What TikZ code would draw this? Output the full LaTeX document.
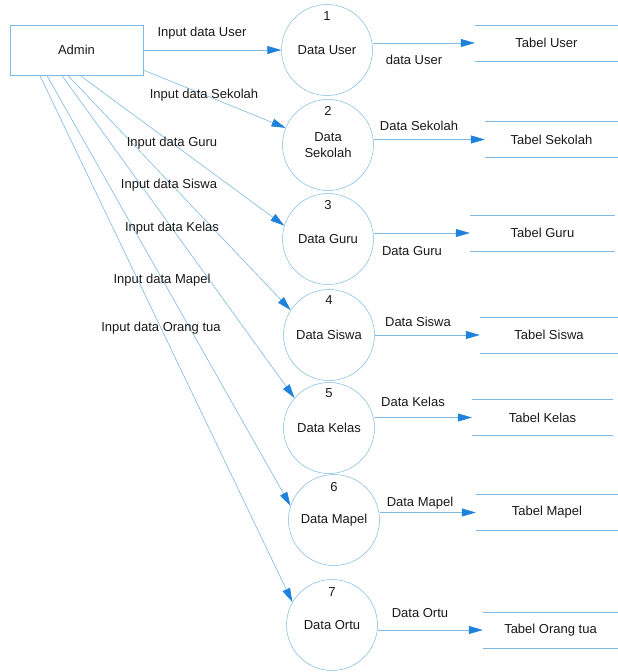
\documentclass[tikz,border=0pt]{standalone}
\usepackage{fontspec}
\setmainfont{Liberation Sans}
\usetikzlibrary{arrows.meta,calc}
\definecolor{linec}{RGB}{125,185,225}
\definecolor{tipc}{RGB}{30,130,220}
\definecolor{txt}{RGB}{25,25,25}
\begin{document}
\begin{tikzpicture}[x=1pt,y=-1pt,
  every node/.style={font=\fontsize{13}{15.5}\selectfont, text=txt},
  proc/.style={circle, draw=linec, line width=0.5pt, minimum size=91pt, inner sep=0pt, align=center},
  entity/.style={draw=linec, line width=0.5pt, minimum width=133pt, minimum height=50pt},
  store/.style={minimum height=36pt, inner sep=0pt},
  storeline/.style={draw=linec, line width=0.5pt},
  flow/.style={draw=linec, line width=0.6pt, -{Triangle[length=14pt,width=8pt,color=tipc]}},
  num/.style={inner sep=1pt}]
\useasboundingbox (0,0) rectangle (618,672);

% external entity
\node[entity] (admin) at (76.5,50) {Admin};

% processes
\node[proc] (c1) at (327,50) {Data User};
\node[proc] (c2) at (328,145) {Data\\Sekolah};
\node[proc] (c3) at (328,239) {Data Guru};
\node[proc] (c4) at (329,335) {Data Siswa};
\node[proc] (c5) at (329,428) {Data Kelas};
\node[proc] (c6) at (334,520) {Data Mapel};
\node[proc] (c7) at (332,625) {Data Ortu};

\node[num] (n1) at ($(c1)+(0,-34)$) {1};
\node[num] (n2) at ($(c2)+(0,-34)$) {2};
\node[num] (n3) at ($(c3)+(0,-34)$) {3};
\node[num] (n4) at ($(c4)+(0,-35)$) {4};
\node[num] (n5) at ($(c5)+(0,-35)$) {5};
\node[num] (n6) at ($(c6)+(0,-33)$) {6};
\node[num] (n7) at ($(c7)+(0,-33)$) {7};

% data stores
\node[store, minimum width=143pt] (s1) at (546.5,43) {Tabel User};
\node[store, minimum width=133pt] (s2) at (551.5,139.5) {Tabel Sekolah};
\node[store, minimum width=145pt] (s3) at (542.5,233) {Tabel Guru};
\node[store, minimum width=138pt] (s4) at (549,335) {Tabel Siswa};
\node[store, minimum width=141pt] (s5) at (542.5,417.5) {Tabel Kelas};
\node[store, minimum width=142pt] (s6) at (547,512.5) {Tabel Mapel};
\node[store, minimum width=135pt] (s7) at (550.5,630) {Tabel Orang tua};

\foreach \s in {s1,s2,s3,s4,s5,s6,s7}{
  \draw[storeline] (\s.north west) -- (\s.north east);
  \draw[storeline] (\s.south west) -- (\s.south east);
}

% start points on Admin
\coordinate (a2) at ($(admin.east)+(0,20)$);
\coordinate (a3) at ($(admin.south west)+(70,0)$);
\coordinate (a4) at ($(admin.south west)+(58,0)$);
\coordinate (a5) at ($(admin.south west)+(52,0)$);
\coordinate (a6) at ($(admin.south west)+(37,0)$);
\coordinate (a7) at ($(admin.south west)+(30,0)$);

% flows from Admin
\draw[flow] (admin.east) -- (c1.west);
\draw[flow] (a2) -- (c2.158);
\draw[flow] (a3) -- (c3.163);
\draw[flow] (a4) -- (c4.147);
\draw[flow] (a5) -- (c5.139);
\draw[flow] (a6) -- (c6.162);
\draw[flow] (a7) -- (c7.150);

\node (l1) at (202,33) {Input data User};
\node (l2) at (204,95) {Input data Sekolah};
\node (l3) at (172,143) {Input data Guru};
\node (l4) at (169,185) {Input data Siswa};
\node (l5) at (172,228) {Input data Kelas};
\node (l6) at (162,280) {Input data Mapel};
\node (l7) at (161,328) {Input data Orang tua};

% flows to stores
\draw[flow] (c1.east |- s1.west) -- (s1.west);
\draw[flow] (c2.east |- s2.west) -- (s2.west);
\draw[flow] (c3.east |- s3.west) -- (s3.west);
\draw[flow] (c4.east |- s4.west) -- (s4.west);
\draw[flow] (c5.east |- s5.west) -- (s5.west);
\draw[flow] (c6.east |- s6.west) -- (s6.west);
\draw[flow] (c7.east |- s7.west) -- (s7.west);

\node (m1) at (414,60) {data User};
\node (m2) at (419,126) {Data Sekolah};
\node (m3) at (412,251) {Data Guru};
\node (m4) at (418,322) {Data Siswa};
\node (m5) at (413,402) {Data Kelas};
\node (m6) at (420,503) {Data Mapel};
\node (m7) at (420,613) {Data Ortu};
\end{tikzpicture}
\end{document}
